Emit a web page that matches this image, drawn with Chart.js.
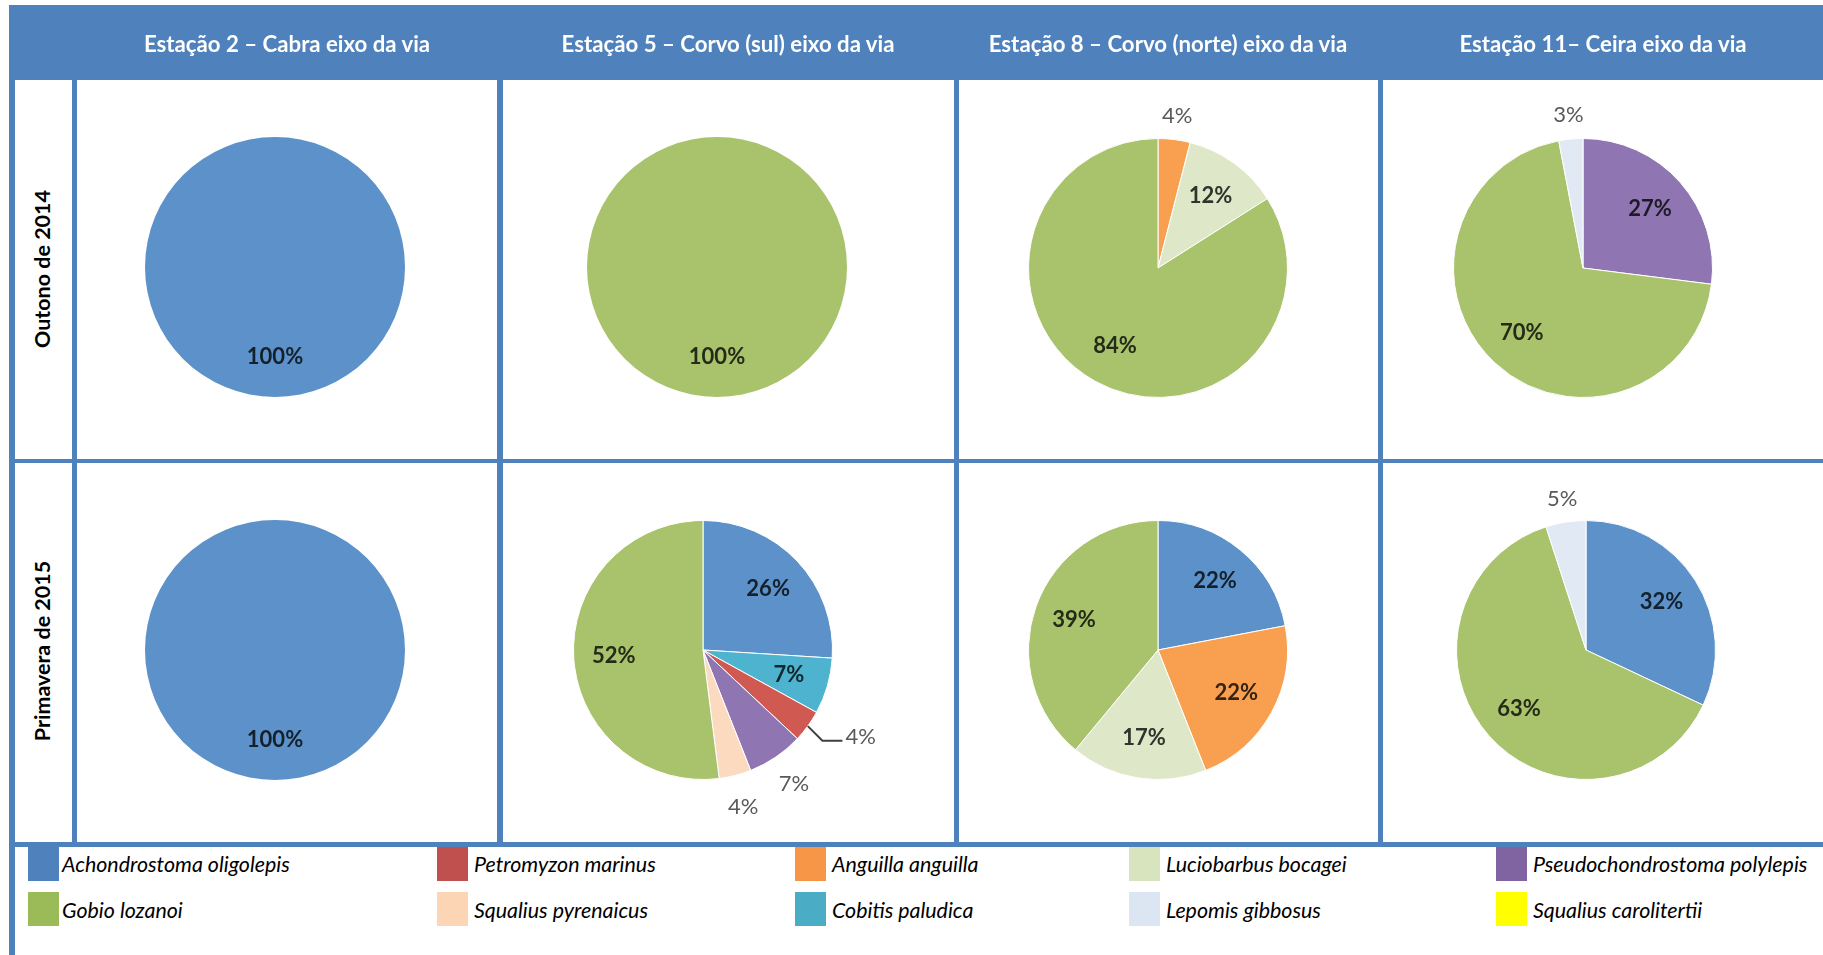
<!DOCTYPE html>
<html><head><meta charset="utf-8">
<script src="https://cdn.jsdelivr.net/npm/chart.js@4.4.1/dist/chart.umd.min.js"></script>
<style>
html,body{margin:0;padding:0;background:#fff;}
body{width:1823px;height:955px;overflow:hidden;position:relative;font-family:Lato,"Open Sans",sans-serif;}
.line{position:absolute;background:#4F81BD;z-index:5;}
.hdr{position:absolute;top:5px;left:9px;width:1814px;height:75px;background:#4F81BD;z-index:4;}
.htxt{position:absolute;top:7px;height:74px;line-height:74px;color:#fff;font-weight:700;text-align:center;white-space:nowrap;z-index:6;width:600px;}
.rlab{position:absolute;font-weight:700;color:#000;white-space:nowrap;transform:translate(-50%,-50%) rotate(-90deg);z-index:6;}
.sw{position:absolute;width:31px;height:34px;z-index:6;}
.ltx{position:absolute;font-style:italic;color:#000;white-space:nowrap;transform:translateY(-50%);z-index:6;}
canvas{position:absolute;z-index:2;}
</style></head>
<body>
<script>
// ---------------- DATA ----------------
const stations = ['Estação 2 – Cabra eixo da via', 'Estação 5 – Corvo (sul) eixo da via', 'Estação 8 – Corvo (norte) eixo da via', 'Estação 11– Ceira eixo da via'];
const seasons = ['Outono de 2014', 'Primavera de 2015'];
const species = ['Achondrostoma oligolepis', 'Petromyzon marinus', 'Anguilla anguilla', 'Luciobarbus bocagei', 'Pseudochondrostoma polylepis',
                 'Gobio lozanoi', 'Squalius pyrenaicus', 'Cobitis paludica', 'Lepomis gibbosus', 'Squalius carolitertii'];

// Outono de 2014 (slices listed clockwise from 12 o'clock)
const autumnSt2Species = ['Achondrostoma oligolepis'];
const autumnSt2Values = [100];
const autumnSt5Species = ['Gobio lozanoi'];
const autumnSt5Values = [100];
const autumnSt8Species = ['Anguilla anguilla', 'Luciobarbus bocagei', 'Gobio lozanoi'];
const autumnSt8Values = [4, 12, 84];
const autumnSt11Species = ['Pseudochondrostoma polylepis', 'Gobio lozanoi', 'Lepomis gibbosus'];
const autumnSt11Values = [27, 70, 3];

// Primavera de 2015
const springSt2Species = ['Achondrostoma oligolepis'];
const springSt2Values = [100];
const springSt5Species = ['Achondrostoma oligolepis', 'Cobitis paludica', 'Petromyzon marinus', 'Pseudochondrostoma polylepis', 'Squalius pyrenaicus', 'Gobio lozanoi'];
const springSt5Values = [26, 7, 4, 7, 4, 52];
const springSt8Species = ['Achondrostoma oligolepis', 'Anguilla anguilla', 'Luciobarbus bocagei', 'Gobio lozanoi'];
const springSt8Values = [22, 22, 17, 39];
const springSt11Species = ['Achondrostoma oligolepis', 'Gobio lozanoi', 'Lepomis gibbosus'];
const springSt11Values = [32, 63, 5];

// ---------------- STYLE ----------------
const legendColors = ['#4F81BD', '#C0504D', '#F79646', '#D7E4BD', '#8064A2', '#9BBB59', '#FCD5B5', '#4BACC6', '#DCE6F2', '#FFFF00'];
const pieColors = ['#5C92C9', '#D05A52', '#F9A050', '#DEE8C8', '#8F76B3', '#A8C36B', '#FCDAC0', '#4DB3CF', '#E1E9F4', '#FFFF00'];

const layout = [
  {sp: autumnSt2Species, v: autumnSt2Values, cx: 275, cy: 267, modes: ['in'], outR: 1.18},
  {sp: autumnSt5Species, v: autumnSt5Values, cx: 717, cy: 267, modes: ['in'], outR: 1.18},
  {sp: autumnSt8Species, v: autumnSt8Values, cx: 1158, cy: 268, modes: ['out', 'in', 'in'], outR: 1.18},
  {sp: autumnSt11Species, v: autumnSt11Values, cx: 1583, cy: 268, modes: ['in', 'in', 'out'], outR: 1.19},
  {sp: springSt2Species, v: springSt2Values, cx: 275, cy: 650, modes: ['in'], outR: 1.18},
  {sp: springSt5Species, v: springSt5Values, cx: 703, cy: 650, modes: ['in', 'in', 'lead', 'out', 'out', 'in'], outR: 1.25},
  {sp: springSt8Species, v: springSt8Values, cx: 1158, cy: 650, modes: ['in', 'in', 'in', 'in'], outR: 1.18},
  {sp: springSt11Species, v: springSt11Values, cx: 1586, cy: 650, modes: ['in', 'in', 'out'], outR: 1.18}
];

const FONT = 'Lato, "Open Sans", sans-serif';
function measure(text, font) {
  const c = document.createElement('canvas').getContext('2d');
  c.font = font; return c.measureText(text).width;
}
function fitSize(text, pre, target) {
  const w = measure(text, pre + ' 100px ' + FONT);
  return 100 * target / w;
}
function darken(hex, f) {
  const n = parseInt(hex.slice(1), 16);
  const r = Math.round(((n >> 16) & 255) * f), g = Math.round(((n >> 8) & 255) * f), b = Math.round((n & 255) * f);
  return 'rgb(' + r + ',' + g + ',' + b + ')';
}
function el(cls, css, text) {
  const d = document.createElement('div');
  d.className = cls; Object.assign(d.style, css);
  if (text !== undefined) d.textContent = text;
  document.body.appendChild(d); return d;
}

// ---------------- TABLE FRAME ----------------
el('hdr', {});
const colCenters = [287, 728, 1168, 1603];
const hSize = fitSize(stations[0], 'bold', 287);
stations.forEach((s, i) => el('htxt', {left: (colCenters[i] - 300) + 'px', fontSize: hSize + 'px'}, s));

[[9, 80, 6, 875], [72, 80, 5, 767], [497, 80, 6, 767], [954, 80, 5, 767], [1378, 80, 5, 767]]
  .forEach(a => el('line', {left: a[0] + 'px', top: a[1] + 'px', width: a[2] + 'px', height: a[3] + 'px'}));
[[9, 459, 1814, 4], [9, 842, 1814, 5]]
  .forEach(a => el('line', {left: a[0] + 'px', top: a[1] + 'px', width: a[2] + 'px', height: a[3] + 'px'}));

const rSize = fitSize(seasons[0], 'bold', 158);
[[42, 269], [42, 651]].forEach((p, i) => el('rlab', {left: p[0] + 'px', top: p[1] + 'px', fontSize: rSize + 'px'}, seasons[i]));

// ---------------- LEGEND ----------------
const swX = [28, 437, 795, 1129, 1496];
const txX = [62, 474, 832, 1166, 1533];
const swY = [847, 892];
const txY = [864, 910];
const lSize = fitSize(species[0], 'italic', 228);
species.forEach((s, i) => {
  const r = Math.floor(i / 5), c = i % 5;
  el('sw', {left: swX[c] + 'px', top: swY[r] + 'px', background: legendColors[i]});
  el('ltx', {left: txX[c] + 'px', top: txY[r] + 'px', fontSize: lSize + 'px'}, s);
});

// ---------------- PIES ----------------
const pctLabels = {
  id: 'pctLabels',
  afterDatasetsDraw(chart, args, opts) {
    const ctx = chart.ctx;
    const meta = chart.getDatasetMeta(0);
    const ds = chart.data.datasets[0];
    meta.data.forEach((arc, i) => {
      const p = arc.getProps(['x', 'y', 'startAngle', 'endAngle', 'outerRadius'], true);
      const mid = (p.startAngle + p.endAngle) / 2;
      const r = p.outerRadius;
      const cs = Math.cos(mid), sn = Math.sin(mid);
      const txt = ds.data[i] + '%';
      const mode = opts.modes[i];
      ctx.save();
      ctx.textBaseline = 'middle';
      if (mode === 'in') {
        ctx.font = 'bold 22px ' + FONT;
        ctx.fillStyle = darken(ds.backgroundColor[i], 0.22);
        ctx.textAlign = 'center';
        ctx.fillText(txt, p.x + cs * r * 0.69, p.y + sn * r * 0.69);
      } else if (mode === 'out') {
        ctx.font = '22px ' + FONT;
        ctx.fillStyle = '#595959';
        ctx.textAlign = 'center';
        ctx.fillText(txt, p.x + cs * r * opts.outR, p.y + sn * r * opts.outR);
      } else {
        const sx = p.x + cs * r, sy = p.y + sn * r;
        const bx = p.x + cs * r * 1.14, by = p.y + sn * r * 1.14 + 4;
        ctx.strokeStyle = '#404040'; ctx.lineWidth = 2;
        ctx.beginPath(); ctx.moveTo(sx, sy); ctx.lineTo(bx, by); ctx.lineTo(bx + 20, by); ctx.stroke();
        ctx.font = '22px ' + FONT;
        ctx.fillStyle = '#595959';
        ctx.textAlign = 'left';
        ctx.fillText(txt, bx + 23, by - 4);
      }
      ctx.restore();
    });
  }
};

layout.forEach(L => {
  const cv = document.createElement('canvas');
  cv.width = 380; cv.height = 380;
  cv.style.left = (L.cx - 190) + 'px';
  cv.style.top = (L.cy - 190) + 'px';
  document.body.appendChild(cv);
  const colors = L.sp.map(s => pieColors[species.indexOf(s)]);
  new Chart(cv, {
    type: 'pie',
    data: {
      labels: L.sp,
      datasets: [{data: L.v, backgroundColor: colors, borderColor: '#ffffff', borderWidth: L.v.length > 1 ? 1 : 0}]
    },
    options: {
      responsive: false, animation: false, devicePixelRatio: 1,
      layout: {padding: 60},
      plugins: {legend: {display: false}, tooltip: {enabled: false}, pctLabels: {modes: L.modes, outR: L.outR}}
    },
    plugins: [pctLabels]
  });
});
</script>
</body></html>
